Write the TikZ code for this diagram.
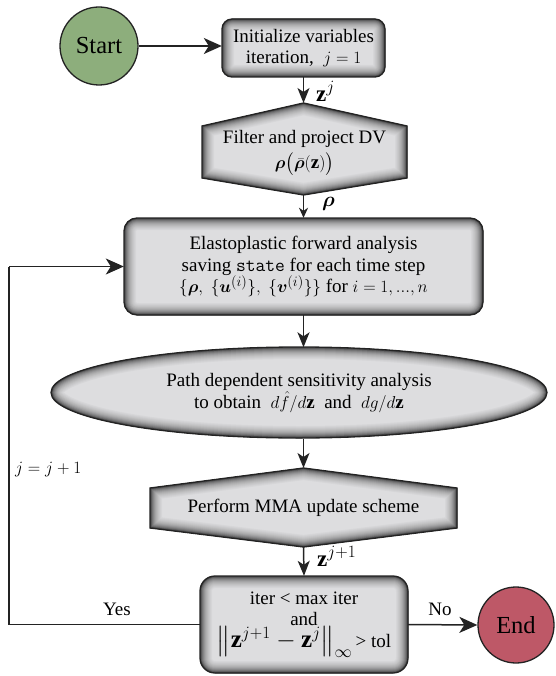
\documentclass[tikz,border=0pt]{standalone}
\usepackage{amsmath,amssymb,bm}
\usepackage{fontspec}
\setmainfont{Liberation Serif}
\usetikzlibrary{arrows.meta,shapes.geometric}

\definecolor{boxfill}{RGB}{221,221,223}
\definecolor{startgreen}{RGB}{141,174,124}
\definecolor{endred}{RGB}{190,88,103}
\definecolor{edgecol}{RGB}{35,35,35}

\newcommand{\shadedshape}[2][]{%
  \begin{scope}[#1]
    \clip #2;
    \fill[boxfill] #2;
    \foreach \w/\p in {24/97,22/94,20/91,18/88,16/84,14/80,12/75,10/69,8/62,6/54,4/45,2.5/34}{
      \draw[line width=\w pt, boxfill!\p!black] #2;
    }
  \end{scope}
  \draw[line width=1.3pt, edgecol, #1] #2;
}

\tikzset{
  txt/.style={align=center, font=\fontsize{19}{21.5}\selectfont, inner sep=0pt, draw=none},
  conn/.style={draw=edgecol, line width=1.5pt, -{Stealth[length=15pt,width=12pt,inset=4pt]}},
  smallconn/.style={draw=edgecol, line width=1.5pt, -{Stealth[length=10pt,width=9pt,inset=3pt]}},
  bigconn/.style={draw=edgecol, line width=1.5pt, -{Stealth[length=18pt,width=16pt,inset=5pt]}},
  plainline/.style={draw=edgecol, line width=1.5pt},
  lbl/.style={font=\fontsize{19}{21}\selectfont, inner sep=0pt},
  term/.style={circle, draw=edgecol, line width=1.3pt, font=\fontsize{24.5}{26}\selectfont, inner sep=0pt},
}

\begin{document}
\begin{tikzpicture}[x=1pt, y=-1pt]
\useasboundingbox (0,0) rectangle (555,676);

% shaded shapes
\shadedshape[rounded corners=10pt]{(222,19) rectangle (385,77)}
\shadedshape{(303.5,103) -- (407,126) -- (407,178) -- (303.5,195) -- (202,178) -- (202,126) -- cycle}
\shadedshape[rounded corners=13pt]{(124,218) rectangle (483,315)}
\shadedshape{(299,392.5) ellipse [x radius=248pt, y radius=45.5pt]}
\shadedshape{(303.5,468) -- (457,488) -- (457,528) -- (303.5,547) -- (150,528) -- (150,488) -- cycle}
\shadedshape[rounded corners=15pt]{(200,576) rectangle (408,673)}

% terminal nodes
\node[term, fill=startgreen, minimum size=78pt] (start) at (99,46) {Start};
\node[term, fill=endred, minimum size=76pt] (endn) at (516,625) {End};

% text nodes
\node[txt, minimum width=163pt, minimum height=58pt] (init) at (303.5,48)
  {Initialize variables\\iteration, \ $j=1$};
\node[txt, minimum width=205pt, minimum height=52pt] (filt) at (304.5,153)
  {Filter and project DV\\[4pt]$\boldsymbol{\rho}\bigl(\bar{\boldsymbol{\rho}}(\mathbf{z})\bigr)$};
\node[txt, minimum width=359pt, minimum height=97pt] (elast) at (303.5,266.5)
  {Elastoplastic forward analysis\\saving \texttt{state} for each time step\\
   $\{\boldsymbol{\rho},\ \{\boldsymbol{u}^{(i)}\},\ \{\boldsymbol{v}^{(i)}\}\}$ for $i=1,...,n$};
\node[txt, minimum width=496pt, minimum height=91pt] (sens) at (299,393)
  {Path dependent sensitivity analysis\\to obtain \ $d\hat{f}/d\mathbf{z}$ \ and \ $dg/d\mathbf{z}$};
\node[txt, minimum width=307pt, minimum height=40pt] (mma) at (303.5,508)
  {Perform MMA update scheme};
\node[txt, minimum width=208pt, minimum height=97pt] (dec) at (304,624.5)
  {iter < max iter\\and\\{\fontsize{25}{25}\selectfont$\big\|\mathbf{z}^{j+1}-\mathbf{z}^{j}\big\|_{\infty}$}\,> tol};

% hexagon apex and loop coordinates
\coordinate (h1top) at (303.5,103);
\coordinate (h1bot) at (303.5,195);
\coordinate (h2top) at (303.5,468);
\coordinate (h2bot) at (303.5,547);
\coordinate (lc1) at (9,624.5);
\coordinate (lc2) at (9,266.5);

% connectors
\draw[bigconn] (start.east) -- (start.east -| init.west);
\draw[conn] (init.south) -- (h1top);
\draw[smallconn] (h1bot) -- (elast.north);
\draw[conn] (elast.south) -- (elast.south |- sens.north);
\draw[conn] (elast.south |- sens.south) -- (h2top);
\draw[conn] (h2bot) -- (dec.north);
\draw[bigconn] (dec.east) -- (endn.west);
\draw[plainline] (dec.west) -- (lc1) -- (lc2);
\draw[bigconn] (lc2) -- (elast.west);

% labels
\node[anchor=west, inner sep=0pt, font=\fontsize{23}{23}\selectfont] (lzj) at (316,91) {$\mathbf{z}^{j}$};
\node[anchor=west, inner sep=0pt, font=\fontsize{21}{21}\selectfont] (lrho) at (322,204) {$\boldsymbol{\rho}$};
\node[anchor=west, inner sep=0pt, font=\fontsize{23}{23}\selectfont] (lzj1) at (317,556) {$\mathbf{z}^{j+1}$};
\node[anchor=west, lbl] (ljj) at (15,470) {$j=j+1$};
\node[lbl] (lyes) at (117,609) {Yes};
\node[lbl] (lno) at (440,609) {No};
\end{tikzpicture}
\end{document}
